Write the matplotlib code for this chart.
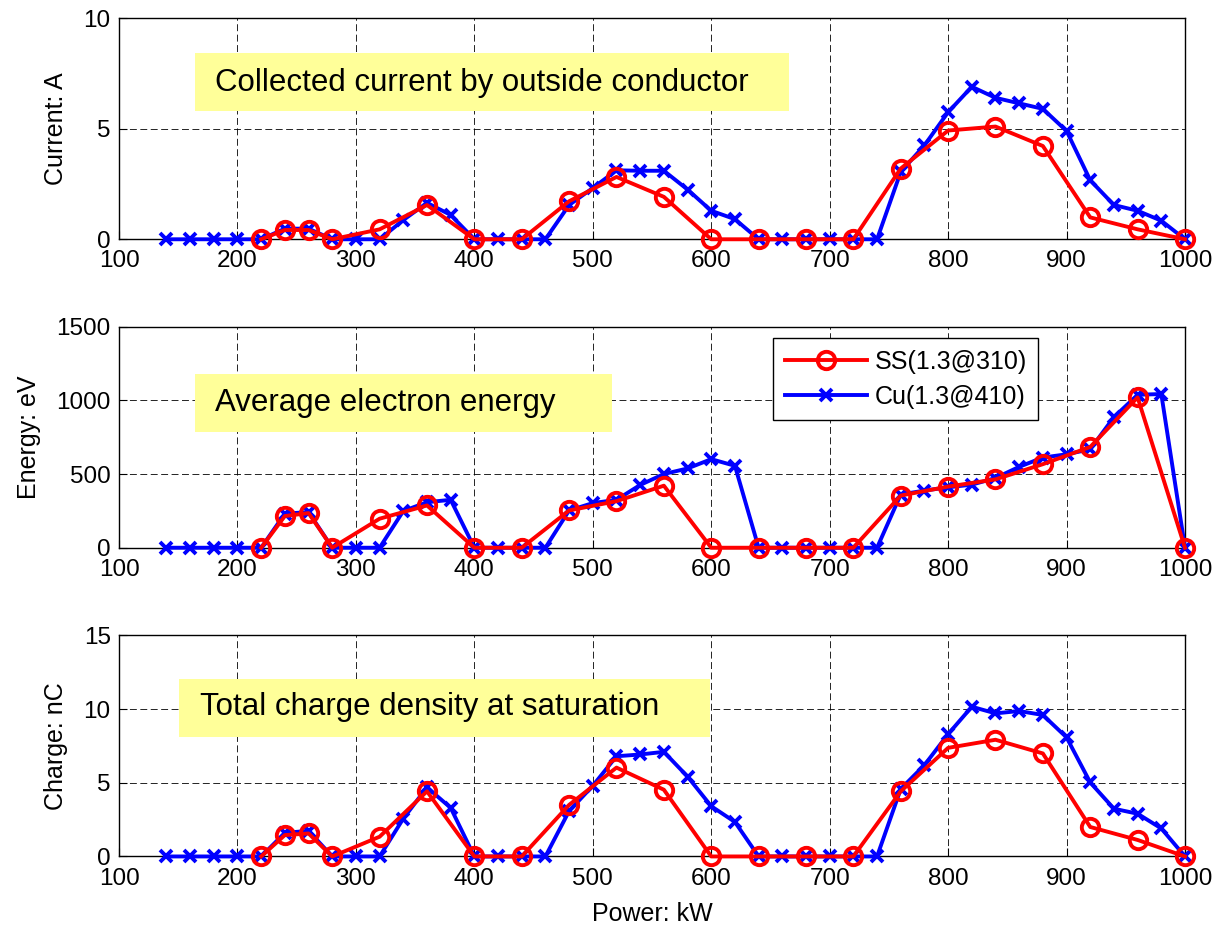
import numpy as np
import matplotlib.pyplot as plt
from matplotlib.patches import Rectangle

plt.rcParams['font.family'] = ['Liberation Sans', 'DejaVu Sans']

# moc dla SS (czerwone kółka) i Cu (niebieskie krzyżyki)
p_ss = [220, 240, 260, 280, 320, 360, 400, 440, 480, 520, 560, 600, 640, 680,
        720, 760, 800, 840, 880, 920, 960, 1000]
p_cu = list(range(140, 1001, 20))

# prąd zbierany [A]
i_ss = [0, 0.42, 0.42, 0, 0.45, 1.55, 0, 0, 1.72, 2.82, 1.92, 0, 0, 0,
        0, 3.2, 4.92, 5.1, 4.22, 0.99, 0.45, 0]
i_cu = [0, 0, 0, 0, 0, 0.48, 0.48, 0, 0, 0, 0.87, 1.65, 1.1, 0, 0, 0, 0,
        1.55, 2.32, 3.12, 3.1, 3.1, 2.25, 1.29, 0.91, 0, 0, 0, 0, 0, 0,
        3.05, 4.25, 5.75, 6.9, 6.4, 6.15, 5.9, 4.9, 2.67, 1.55, 1.29, 0.84, 0]

# średnia energia elektronów [eV]
e_ss = [0, 215, 235, 0, 197, 287, 0, 0, 253, 316, 421, 0, 0, 0,
        0, 354, 415, 464, 567, 684, 1020, 0]
e_cu = [0, 0, 0, 0, 0, 231, 242, 0, 0, 0, 249, 309, 325, 0, 0, 0, 0,
        253, 303, 325, 426, 500, 538, 601, 556, 0, 0, 0, 0, 0, 0,
        361, 388, 410, 428, 473, 549, 612, 634, 668, 886, 1038, 1043, 0]

# ładunek całkowity [nC]
q_ss = [0, 1.45, 1.56, 0, 1.34, 4.42, 0, 0, 3.5, 6.03, 4.53, 0, 0, 0,
        0, 4.42, 7.37, 7.92, 6.99, 2.0, 1.12, 0]
q_cu = [0, 0, 0, 0, 0, 1.6, 1.74, 0, 0, 0, 2.57, 4.69, 3.3, 0, 0, 0, 0,
        3.08, 4.8, 6.8, 6.92, 7.1, 5.42, 3.41, 2.34, 0, 0, 0, 0, 0, 0,
        4.58, 6.2, 8.3, 10.16, 9.71, 9.87, 9.6, 8.08, 5.02, 3.24, 2.9, 1.9, 0]

# (dane SS, dane Cu, opis osi y, ticki y, napis, żółty prostokąt, pozycja napisu)
panele = [
    (i_ss, i_cu, 'Current: A', [0, 5, 10], 'Collected current by outside conductor',
     (0.0713, 0.5822, 0.5574, 0.2594), (0.0904, 0.706)),
    (e_ss, e_cu, 'Energy: eV', [0, 500, 1000, 1500], 'Average electron energy',
     (0.0713, 0.525, 0.3913, 0.261), (0.0904, 0.653)),
    (q_ss, q_cu, 'Charge: nC', [0, 5, 10, 15], 'Total charge density at saturation',
     (0.0562, 0.5427, 0.4983, 0.2593), (0.0757, 0.675)),
]
dolne = [0.7416, 0.4085, 0.0751]

fig = plt.figure(figsize=(12.16, 9.26), dpi=100)

for k, (yss, ycu, ylab, yt, opis, prost, tpos) in enumerate(panele):
    ax = fig.add_axes([0.0979, dolne[k], 0.8766, 0.2387])
    ax.plot(p_ss, yss, '-o', color='red', lw=2.8, ms=12.5, mfc='none', mew=2.8,
            label='SS(1.3@310)', zorder=4, clip_on=False)
    ax.plot(p_cu, ycu, '-x', color='blue', lw=2.8, ms=8, mew=2.8,
            label='Cu(1.3@410)', zorder=3, clip_on=False)
    ax.set_xlim(100, 1000)
    ax.set_ylim(yt[0], yt[-1])
    ax.set_xticks(range(100, 1001, 100))
    ax.set_yticks(yt)
    ax.grid(True, color='k', lw=0.6, ls=(0, (8.3, 4.2)))
    ax.tick_params(direction='in', labelsize=17.5, length=6)
    ax.tick_params(axis='x', pad=8)
    ax.tick_params(axis='y', pad=6)
    for s in ax.spines.values():
        s.set_linewidth(1.0)
    ax.set_ylabel(ylab, fontsize=18, labelpad=11)
    ax.add_patch(Rectangle(prost[:2], prost[2], prost[3], transform=ax.transAxes,
                           facecolor='#FFFF99', edgecolor='none', zorder=2.5))
    ax.text(tpos[0], tpos[1], opis, transform=ax.transAxes, fontsize=22.5,
            va='center', ha='left', zorder=2.6)
    if k == 1:
        leg = ax.legend(loc='upper left', bbox_to_anchor=(0.6139, 0.947),
                        borderaxespad=0, fontsize=18, fancybox=False,
                        edgecolor='k', framealpha=1, handlelength=3.3,
                        handletextpad=0.3, borderpad=0.45, labelspacing=0.45)
        leg.get_frame().set_linewidth(1.0)
        leg.set_zorder(5)
    if k == 2:
        ax.set_xlabel('Power: kW', fontsize=18, labelpad=9)

fig.savefig('out.png', dpi=100)
